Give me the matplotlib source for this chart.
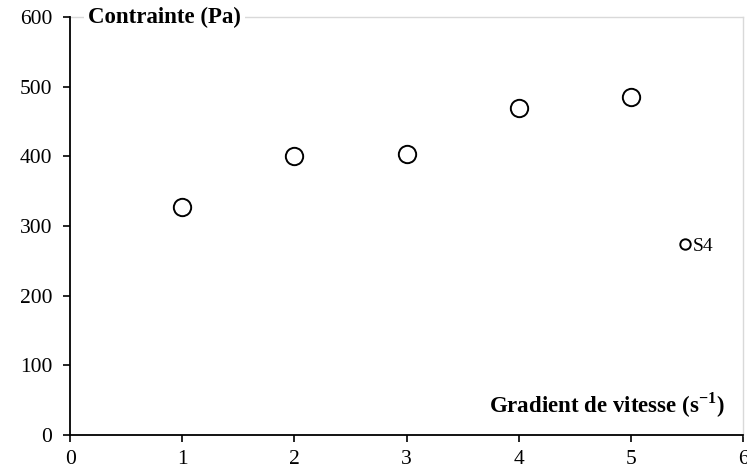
import matplotlib.pyplot as plt

plt.rcParams["font.family"] = ["Liberation Serif", "DejaVu Serif"]
plt.rcParams["mathtext.fontset"] = "custom"
plt.rcParams["mathtext.rm"] = "Liberation Serif"
plt.rcParams["mathtext.bf"] = "Liberation Serif:bold"

# données
gradient = [1, 2, 3, 4, 5]
contrainte = [328, 400, 404, 469, 485]
serie = "S4"
x_ticks = [0, 1, 2, 3, 4, 5, 6]
y_ticks = [0, 100, 200, 300, 400, 500, 600]

fig = plt.figure(figsize=(7.47, 4.75), dpi=100)
ax = fig.add_axes([0.094, 0.084, 0.9006, 0.88])

ax.plot(gradient, contrainte, "o", ms=12.5, mfc="white", mec="black", mew=1.4,
        label=serie, clip_on=False)

ax.set_xlim(0, 6)
ax.set_ylim(0, 600)
ax.set_xticks(x_ticks)
ax.set_yticks(y_ticks)
ax.tick_params(labelsize=15.5, length=5, width=1.2, color="black")
ax.tick_params(axis="x", pad=6)
ax.tick_params(axis="y", pad=8)

for s in ["left", "bottom"]:
    ax.spines[s].set_linewidth(1.3)
    ax.spines[s].set_zorder(5)
for s in ["top", "right"]:
    ax.spines[s].set_color("#d9d9d9")
    ax.spines[s].set_linewidth(1.0)

ax.text(0.026, 1.0, "Contrainte (Pa)", transform=ax.transAxes, fontsize=16.5,
        fontweight="bold", va="center", ha="left",
        bbox=dict(facecolor="white", edgecolor="none", pad=3), zorder=6)
ax.text(0.973, 0.035, "Gradient de vitesse (s$^{\\mathbf{-1}}$)", transform=ax.transAxes,
        fontsize=16.5, fontweight="bold", va="bottom", ha="right")

leg = ax.legend(loc="center left", bbox_to_anchor=(0.905, 0.452), frameon=False,
                fontsize=14, markerscale=0.6, handlelength=0.6, handletextpad=0.1,
                borderpad=0, borderaxespad=0)

fig.savefig("out.png", dpi=100)
